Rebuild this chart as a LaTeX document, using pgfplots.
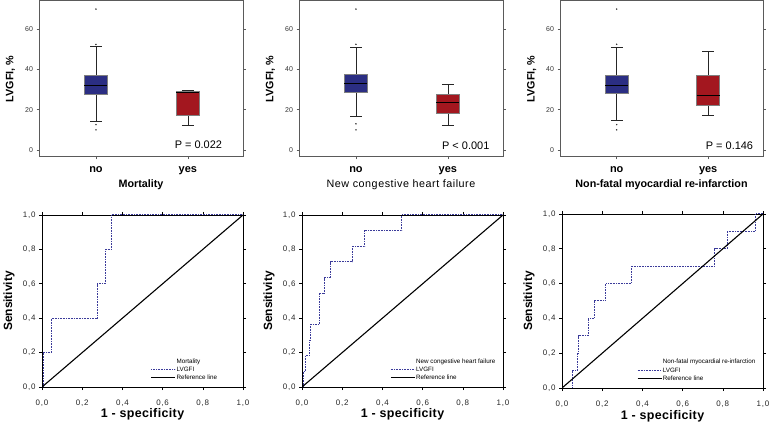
\documentclass[border=0pt]{standalone}
\usepackage{fontspec}
\setmainfont{Liberation Sans}
\newfontfamily\spaced[LetterSpace=5]{Liberation Sans}
\newfontfamily\tickspaced[LetterSpace=10]{Liberation Sans}
\usepackage{pgfplots}
\pgfplotsset{compat=1.18}
\definecolor{boxblue}{HTML}{2B2E83}
\definecolor{boxred}{HTML}{A3171F}
\definecolor{rocblue}{HTML}{3B3B9A}
\definecolor{framegray}{HTML}{5A5A5A}

\pgfplotsset{
  boxax/.style={
    scale only axis, width=204bp, height=156bp, anchor=south west,
    xmin=0.38, xmax=2.6, ymin=-3.5, ymax=74,
    xtick={1,2}, xticklabels={no,yes},
    ytick={0,20,40,60},
    tick align=outside, major tick length=2.5bp,
    tick style={framegray, line width=0.6bp},
    axis line style={framegray, line width=1bp},
    xticklabel style={font=\fontsize{11}{12}\selectfont\bfseries, anchor=base, yshift=-13.5bp},
    yticklabel style={font=\fontsize{7}{8}\selectfont, text=black!80},
    /pgf/number format/assume math mode=true,
    every axis x label/.style={at={(axis description cs:0.5,-0.18)}, anchor=center, font=\fontsize{10.8}{12}\selectfont},
    every axis y label/.style={at={(axis description cs:-0.14,0.5)}, rotate=90, anchor=center, font=\fontsize{10.8}{12}\selectfont\bfseries},
    ylabel={LVGFI, \%},
    unbounded coords=jump,
  },
  bluebox/.style={fill=boxblue, draw=black!50, line width=0.6bp},
  redbox/.style={fill=boxred, draw=black!50, line width=0.6bp},
  whisk/.style={draw=black!85, line width=0.7bp},
  med/.style={draw=black, line width=0.7bp},
  outl/.style={only marks, mark=*, mark size=0.5bp, mark options={fill=black!80, draw=black!80}},
  rocax/.style={
    scale only axis, width=201bp, height=172bp, anchor=south west,
    xmin=0, xmax=1, ymin=0, ymax=1,
    xtick={0,0.2,0.4,0.6,0.8,1}, ytick={0,0.2,0.4,0.6,0.8,1},
    tick align=outside, major tick length=3bp,
    tick style={black, line width=0.6bp},
    axis line style={black, line width=0.8bp},
    /pgf/number format/.cd, use comma, fixed, fixed zerofill, precision=1, assume math mode=true,
    /pgfplots/.cd,
    xticklabel style={font=\fontsize{8}{9}\selectfont\tickspaced, text=black!85, anchor=base, yshift=-15bp},
    yticklabel style={font=\fontsize{8}{9}\selectfont\tickspaced, text=black!85},
    every axis x label/.style={at={(axis description cs:0.5,-0.18)}, anchor=base, font=\fontsize{12.5}{14}\selectfont\bfseries},
    every axis y label/.style={at={(axis description cs:-0.164,0.5)}, rotate=90, anchor=center, font=\fontsize{12}{14}\selectfont\bfseries},
    xlabel={{\fontspec[LetterSpace=3]{Liberation Sans Bold}1 - specificity}},
    ylabel={Sensitivity},
    legend cell align=left,
    legend style={draw=none, fill=none, inner sep=0pt, row sep=0.6bp,
      font=\fontsize{6.3}{7}\selectfont, anchor=south west,
      nodes={inner sep=0.8bp}},
    legend image code/.code={\draw[#1] (0bp,0bp) -- (24bp,0bp);},
  },
  rocline/.style={rocblue, line width=1bp, dash pattern=on 0.9bp off 0.7bp},
  refline/.style={black, line width=1.1bp},
}

\begin{document}
\begin{tikzpicture}
\useasboundingbox (0bp,0bp) rectangle (772bp,424bp);

% ---------- Top row: box plots ----------
% Mortality: no (whiskers 14.4/51.4, Q1 27.5, median 32, Q3 37.1), yes (12.1/29.4, 17.2, 28.6, 28.9)
\begin{axis}[boxax, at={(39bp,267bp)}, xlabel={\textbf{Mortality}}]
\addplot[whisk] coordinates {(1,37.1) (1,51.4) (nan,nan) (0.935,51.4) (1.065,51.4) (nan,nan) (1,27.5) (1,14.4) (nan,nan) (0.935,14.4) (1.065,14.4)};
\addplot[bluebox] coordinates {(0.875,27.5) (1.125,27.5) (1.125,37.1) (0.875,37.1) (0.875,27.5)};
\addplot[med] coordinates {(0.875,32) (1.125,32)};
\addplot[outl] coordinates {(1,70) (1,52.4) (1,12.6) (1,10)};
\addplot[whisk] coordinates {(2,28.9) (2,29.4) (nan,nan) (1.935,29.4) (2.065,29.4) (nan,nan) (2,17.2) (2,12.1) (nan,nan) (1.935,12.1) (2.065,12.1)};
\addplot[redbox] coordinates {(1.875,17.2) (2.125,17.2) (2.125,28.9) (1.875,28.9) (1.875,17.2)};
\addplot[med] coordinates {(1.875,28.6) (2.125,28.6)};
\node[anchor=base east, font=\fontsize{11}{12}\selectfont] at (axis cs:2.41,0.5) {P = 0.022};
\end{axis}

% New congestive heart failure
\begin{axis}[boxax, at={(299bp,267bp)}, xlabel={{\spaced New congestive heart failure}}]
\addplot[whisk] coordinates {(1,37.6) (1,51) (nan,nan) (0.935,51) (1.065,51) (nan,nan) (1,28.5) (1,16.6) (nan,nan) (0.935,16.6) (1.065,16.6)};
\addplot[bluebox] coordinates {(0.875,28.5) (1.125,28.5) (1.125,37.6) (0.875,37.6) (0.875,28.5)};
\addplot[med] coordinates {(0.875,33.2) (1.125,33.2)};
\addplot[outl] coordinates {(1,70) (1,52.5) (1,13) (1,10)};
\addplot[whisk] coordinates {(2,27.5) (2,32.5) (nan,nan) (1.935,32.5) (2.065,32.5) (nan,nan) (2,18.2) (2,12.4) (nan,nan) (1.935,12.4) (2.065,12.4)};
\addplot[redbox] coordinates {(1.875,18.2) (2.125,18.2) (2.125,27.5) (1.875,27.5) (1.875,18.2)};
\addplot[med] coordinates {(1.875,23.6) (2.125,23.6)};
\node[anchor=base east, font=\fontsize{11}{12}\selectfont] at (axis cs:2.49,0.3) {P < 0.001};
\end{axis}

% Non-fatal myocardial re-infarction
\begin{axis}[boxax, at={(560bp,267bp)}, width=203bp, xlabel={\textbf{Non-fatal myocardial re-infarction}}]
\addplot[whisk] coordinates {(1,37.1) (1,51) (nan,nan) (0.935,51) (1.065,51) (nan,nan) (1,27.9) (1,14.6) (nan,nan) (0.935,14.6) (1.065,14.6)};
\addplot[bluebox] coordinates {(0.875,27.9) (1.125,27.9) (1.125,37.1) (0.875,37.1) (0.875,27.9)};
\addplot[med] coordinates {(0.875,32) (1.125,32)};
\addplot[outl] coordinates {(1,70) (1,52.5) (1,12.6) (1,10)};
\addplot[whisk] coordinates {(2,37.1) (2,49) (nan,nan) (1.935,49) (2.065,49) (nan,nan) (2,22) (2,17.4) (nan,nan) (1.935,17.4) (2.065,17.4)};
\addplot[redbox] coordinates {(1.875,22) (2.125,22) (2.125,37.1) (1.875,37.1) (1.875,22)};
\addplot[med] coordinates {(1.875,27) (2.125,27)};
\node[anchor=base east, font=\fontsize{11}{12}\selectfont] at (axis cs:2.53,0.3) {P = 0.146};
\end{axis}

% ---------- Bottom row: ROC curves ----------
\begin{axis}[rocax, at={(42bp,37bp)}, legend style={at={(0.54,0.03)}}]
\addlegendimage{empty legend}\addlegendentry{Mortality}
\addplot[rocline] coordinates {(0,0) (0.007,0) (0.007,0.2) (0.046,0.2) (0.046,0.4) (0.275,0.4) (0.275,0.6) (0.315,0.6) (0.315,0.8) (0.345,0.8) (0.345,1) (1,1)};
\addlegendentry{LVGFI}
\addplot[refline] coordinates {(0,0) (1,1)};
\addlegendentry{Reference line}
\end{axis}

\begin{axis}[rocax, at={(302bp,37bp)}, legend style={at={(0.438,0.03)}}]
\addlegendimage{empty legend}\addlegendentry{New congestive heart failure}
\addplot[rocline] coordinates {(0,0) (0.007,0) (0.007,0.091) (0.017,0.091) (0.017,0.182) (0.035,0.182) (0.035,0.273) (0.041,0.273) (0.041,0.364) (0.085,0.364) (0.085,0.545) (0.11,0.545) (0.11,0.636) (0.143,0.636) (0.143,0.727) (0.25,0.727) (0.25,0.818) (0.313,0.818) (0.313,0.909) (0.497,0.909) (0.497,1) (1,1)};
\addlegendentry{LVGFI}
\addplot[refline] coordinates {(0,0) (1,1)};
\addlegendentry{Reference line}
\end{axis}

\begin{axis}[rocax, at={(562bp,36bp)}, height=174bp, legend style={at={(0.372,0.03)}}]
\addlegendimage{empty legend}\addlegendentry{Non-fatal myocardial re-infarction}
\addplot[rocline] coordinates {(0,0) (0.053,0) (0.053,0.1) (0.076,0.1) (0.076,0.2) (0.083,0.2) (0.083,0.3) (0.13,0.3) (0.13,0.4) (0.16,0.4) (0.16,0.5) (0.218,0.5) (0.218,0.6) (0.345,0.6) (0.345,0.7) (0.759,0.7) (0.759,0.8) (0.821,0.8) (0.821,0.9) (0.962,0.9) (0.962,1) (1,1)};
\addlegendentry{LVGFI}
\addplot[refline] coordinates {(0,0) (1,1)};
\addlegendentry{Reference line}
\end{axis}
\end{tikzpicture}
\end{document}
